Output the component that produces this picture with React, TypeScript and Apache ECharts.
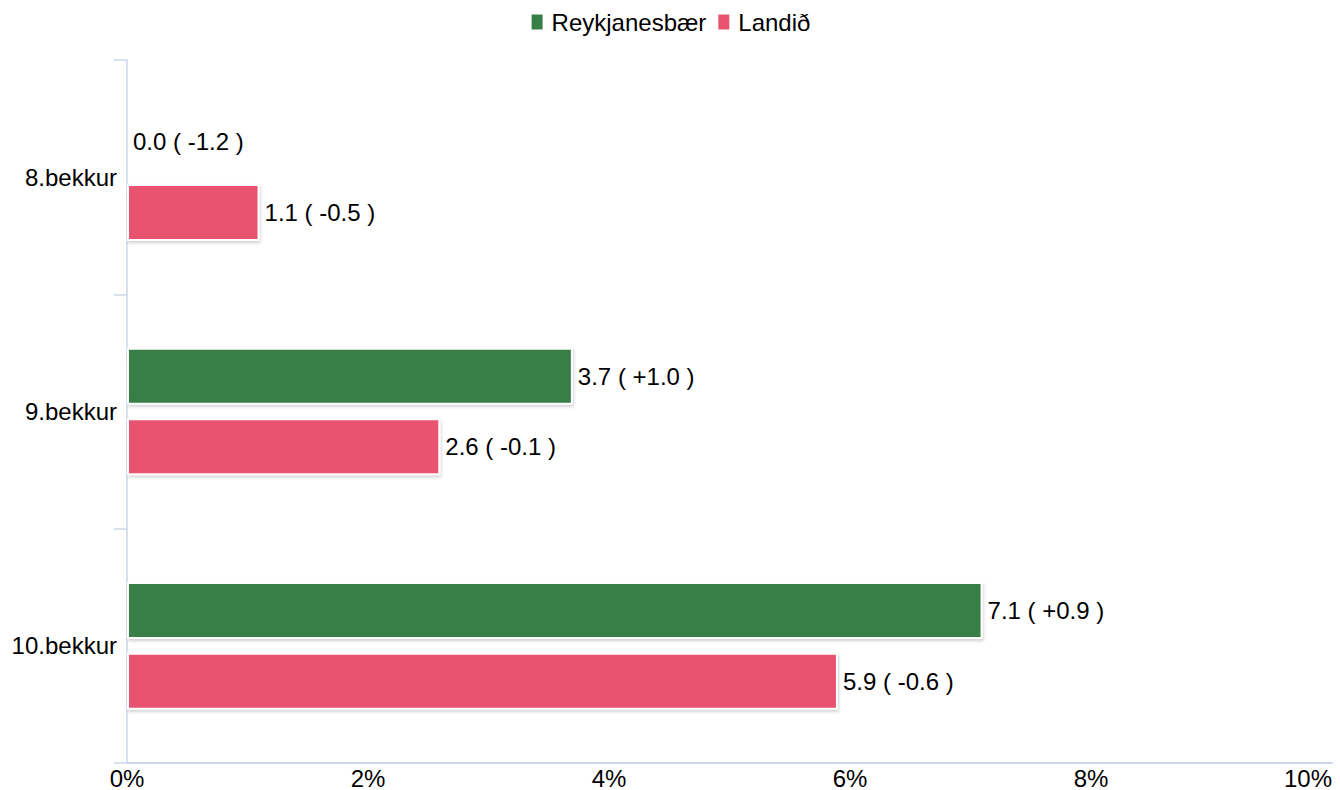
import React, { useEffect, useRef } from "react";
import * as echarts from "echarts";

const categories = ["8.bekkur", "9.bekkur", "10.bekkur"];
const seriesNames = ["Reykjanesbær", "Landið"];
const reykjanesbaer = [0.0, 3.7, 7.1];
const reykjanesbaerDiff = [-1.2, 1.0, 0.9];
const landid = [1.1, 2.6, 5.9];
const landidDiff = [-0.5, -0.1, -0.6];
const xTicks = [0, 2, 4, 6, 8, 10];

const GREEN = "#377f47";
const PINK = "#e9536f";
const FONT = "'Liberation Sans', Arial, sans-serif";
const FS = 24;

function fmt(v: number, d: number) {
  const ds = (d > 0 ? "+" : "") + d.toFixed(1);
  return `${v.toFixed(1)} ( ${ds} )`;
}

export default function App() {
  const ref = useRef<HTMLDivElement>(null);
  useEffect(() => {
    if (!ref.current) return;
    const chart = echarts.init(ref.current, undefined, { renderer: "svg" });
    const barStyle = (color: string) => ({
      color,
      borderColor: "#ffffff",
      borderWidth: 2,
      shadowColor: "rgba(0,0,0,0.18)",
      shadowBlur: 3,
      shadowOffsetX: 1,
      shadowOffsetY: 2,
    });
    const labelStyle = (vals: number[], diffs: number[]) => ({
      show: true,
      position: "right" as const,
      distance: 5,
      fontSize: FS,
      fontFamily: FONT,
      color: "#000",
      formatter: (p: any) => fmt(vals[p.dataIndex], diffs[p.dataIndex]),
    });
    chart.setOption({
      animation: false,
      backgroundColor: "#ffffff",
      textStyle: { fontFamily: FONT },
      legend: {
        top: 5,
        left: "center",
        itemWidth: 13,
        itemHeight: 17,
        itemGap: 10,
        icon: "rect",
        textStyle: { fontSize: FS, color: "#000", fontFamily: FONT, padding: [0, 0, 0, 3] },
        data: seriesNames,
      },
      grid: { left: 127, right: 8, top: 60, bottom: 24, containLabel: false },
      xAxis: {
        type: "value",
        min: xTicks[0],
        max: xTicks[xTicks.length - 1],
        interval: 2,
        axisLine: { show: true, lineStyle: { color: "#ccd6eb", width: 2 } },
        axisTick: { show: false },
        splitLine: { show: false },
        axisLabel: {
          fontSize: FS,
          color: "#000",
          fontFamily: FONT,
          margin: 3,
          alignMaxLabel: "right",
          formatter: (v: number) => `${v}%`,
        },
      },
      yAxis: {
        type: "category",
        inverse: true,
        data: categories,
        axisLine: { show: true, lineStyle: { color: "#ccd6eb", width: 1.5 } },
        axisTick: { show: true, length: 13, lineStyle: { color: "#ccd6eb", width: 1.5 } },
        axisLabel: { fontSize: FS, color: "#000", fontFamily: FONT, margin: 10 },
        splitLine: { show: false },
      },
      series: [
        {
          name: seriesNames[0],
          type: "bar",
          data: reykjanesbaer,
          barWidth: 57,
          barGap: "24%",
          itemStyle: barStyle(GREEN),
          label: labelStyle(reykjanesbaer, reykjanesbaerDiff),
        },
        {
          name: seriesNames[1],
          type: "bar",
          data: landid,
          barWidth: 57,
          barGap: "24%",
          itemStyle: barStyle(PINK),
          label: labelStyle(landid, landidDiff),
        },
      ],
    });
    return () => chart.dispose();
  }, []);
  return (
    <div
      ref={ref}
      style={{ position: "fixed", left: 0, top: 0, width: 1340, height: 790, background: "#fff" }}
    />
  );
}
